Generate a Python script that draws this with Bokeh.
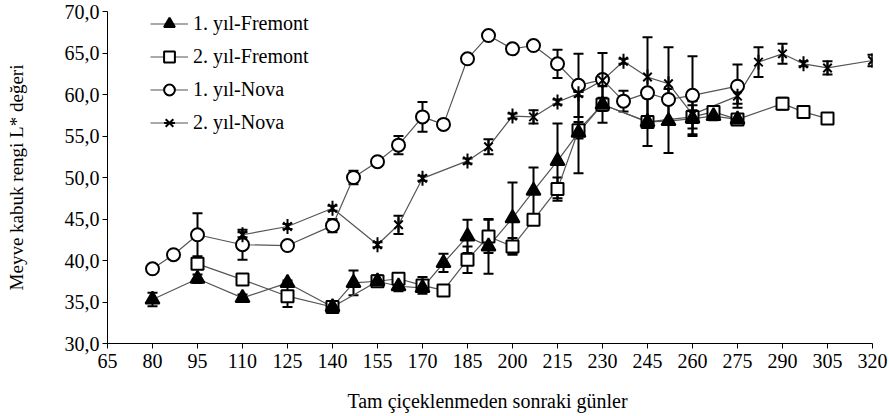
import math
from bokeh.plotting import figure
from bokeh.models import Whisker, ColumnDataSource, FixedTicker, Legend, LegendItem, TeeHead
from bokeh.embed import file_html
from bokeh.resources import INLINE

# ---- data ----
series_names = ["1. yıl-Fremont", "2. yıl-Fremont", "1. yıl-Nova", "2. yıl-Nova"]

f1_days = [80, 95, 110, 125, 140, 147, 155, 162, 170, 177, 185, 192, 200, 207, 215, 222, 230, 245, 252, 260, 267, 275]
f1_vals = [35.3, 37.8, 35.5, 37.3, 34.4, 37.3, 37.5, 36.9, 36.7, 39.7, 42.9, 41.7, 45.1, 48.4, 52.0, 55.4, 58.8, 56.7, 56.8, 57.1, 57.4, 57.0]
f1_err = [0.8, 0.5, 0.4, 0.3, 0.3, 1.5, 0.7, 0.6, 0.5, 1.1, 2.0, 3.3, 4.3, 2.8, 4.5, 4.9, 2.2, 2.9, 3.85, 2.1, 0.5, 0.5]

f2_days = [95, 110, 125, 140, 155, 162, 170, 177, 185, 192, 200, 207, 215, 222, 230, 245, 260, 267, 275, 290, 297, 305]
f2_vals = [39.6, 37.7, 35.7, 34.4, 37.5, 37.8, 37.0, 36.4, 40.1, 42.9, 41.7, 44.9, 48.6, 55.7, 58.8, 56.7, 57.3, 57.9, 57.0, 58.9, 57.9, 57.1]
f2_err = [0.3, 0.3, 1.3, 0.3, 0.5, 0.6, 1.0, 0.6, 1.6, 2.0, 1.0, 0.4, 1.4, 1.0, 0.8, 0.5, 1.4, 0.5, 0.5, 0.7, 0.6, 0.6]

n1_days = [80, 87, 95, 110, 125, 140, 147, 155, 162, 170, 177, 185, 192, 200, 207, 215, 222, 230, 237, 245, 252, 260, 275]
n1_vals = [39.0, 40.7, 43.1, 41.9, 41.8, 44.2, 50.0, 51.9, 53.9, 57.3, 56.4, 64.3, 67.1, 65.5, 65.9, 63.7, 61.1, 61.8, 59.2, 60.2, 59.4, 59.9, 61.0]
n1_err = [0.3, 0.3, 2.6, 1.8, 0.5, 0.8, 0.8, 0.5, 1.1, 1.8, 0.3, 0.3, 0.3, 0.3, 0.3, 1.7, 3.8, 3.2, 1.25, 0.5, 0.5, 4.7, 2.6]

n2_days = [110, 125, 140, 155, 162, 170, 185, 192, 200, 207, 215, 222, 230, 237, 245, 252, 260, 275, 282, 290, 297, 305, 320]
n2_vals = [43.1, 44.1, 46.3, 41.9, 44.3, 49.9, 52.0, 53.7, 57.4, 57.3, 59.1, 60.1, 61.7, 64.0, 62.1, 61.3, 57.6, 59.8, 63.9, 64.9, 63.7, 63.2, 64.1]
n2_err = [0.3, 0.3, 0.3, 0.3, 1.1, 0.3, 0.3, 0.9, 0.3, 0.8, 0.3, 0.3, 0.5, 0.3, 4.8, 4.4, 0.5, 0.9, 1.8, 1.2, 0.3, 0.8, 0.7]

x_ticks = list(range(65, 321, 15))
y_ticks = [30, 35, 40, 45, 50, 55, 60, 65, 70]
y_tick_labels = ["30,0", "35,0", "40,0", "45,0", "50,0", "55,0", "60,0", "65,0", "70,0"]

x_title = "Tam çiçeklenmeden  sonraki günler"
y_title = "Meyve kabuk rengi L* değeri"

FONT = "Liberation Serif"
FS = "20px"

p = figure(width=889, height=416, x_range=(65, 320), y_range=(30, 70),
           output_backend="svg", toolbar_location=None,
           min_border_left=107, min_border_right=17, min_border_top=11, min_border_bottom=73)
p.xgrid.visible = False
p.ygrid.visible = False
p.outline_line_color = None

for ax in (p.xaxis, p.yaxis):
    ax.major_label_text_font = FONT
    ax.major_label_text_font_size = FS
    ax.major_label_text_color = "black"
    ax.axis_label_text_font = FONT
    ax.axis_label_text_font_size = FS
    ax.axis_label_text_font_style = "normal"
    ax.axis_label_text_color = "black"
    ax.axis_line_color = "black"
    ax.major_tick_line_color = "black"
    ax.major_tick_in = 0
    ax.major_tick_out = 5
    ax.minor_tick_line_color = None

p.yaxis.axis_label_text_font_size = "19px"
p.xaxis.ticker = FixedTicker(ticks=x_ticks)
p.yaxis.ticker = FixedTicker(ticks=y_ticks)
p.yaxis.major_label_overrides = {t: lab for t, lab in zip(y_ticks, y_tick_labels)}
p.xaxis.axis_label = x_title
p.yaxis.axis_label = y_title
p.xaxis.major_label_standoff = 5
p.xaxis.axis_label_standoff = 19
p.yaxis.major_label_standoff = 3
p.yaxis.axis_label_standoff = 35

LINE_COLOR = "#555555"

specs = [
    (series_names[2], n1_days, n1_vals, n1_err),
    (series_names[1], f2_days, f2_vals, f2_err),
    (series_names[0], f1_days, f1_vals, f1_err),
    (series_names[3], n2_days, n2_vals, n2_err),
]

sources = {}
line_r = {}
for name, d, v, e in specs:
    src = ColumnDataSource(dict(x=d, y=v,
                                lo=[a - b for a, b in zip(v, e)],
                                hi=[a + b for a, b in zip(v, e)]))
    sources[name] = src
    line_r[name] = p.line("x", "y", source=src, line_color=LINE_COLOR, line_width=1.2)

mark_r = {}
mark_r[series_names[2]] = [p.scatter("x", "y", source=sources[series_names[2]], marker="circle",
                                     size=13, line_color="black", line_width=2, fill_color="white")]
mark_r[series_names[1]] = [p.scatter("x", "y", source=sources[series_names[1]], marker="square",
                                     size=12, line_color="black", line_width=2, fill_color="white")]
mark_r[series_names[0]] = [p.scatter("x", "y", source=sources[series_names[0]], marker="triangle",
                                     size=14, line_color="black", line_width=2, fill_color="black")]
mark_r[series_names[3]] = [
    p.scatter("x", "y", source=sources[series_names[3]], marker="x", size=12,
              line_color="black", line_width=2),
    p.scatter("x", "y", source=sources[series_names[3]], marker="dash", size=15,
              angle=math.pi / 2, line_color="black", line_width=2),
]

for name, d, v, e in specs:
    src = sources[name]
    w = Whisker(source=src, base="x", lower="lo", upper="hi", dimension="height",
                line_color="black", line_width=2,
                upper_head=TeeHead(size=10, line_color="black", line_width=2),
                lower_head=TeeHead(size=10, line_color="black", line_width=2))
    p.add_layout(w)

items = [LegendItem(label=n, renderers=[line_r[n]] + mark_r[n]) for n in series_names]
legend = Legend(items=items, location=(43, 207),
                glyph_width=38, glyph_height=27, label_height=27, spacing=6,
                padding=0, margin=0, label_standoff=5,
                border_line_color=None, background_fill_alpha=0,
                label_text_font=FONT, label_text_font_size=FS, label_text_color="black")
p.add_layout(legend)

open("out.html", "w").write(file_html(p, INLINE))
